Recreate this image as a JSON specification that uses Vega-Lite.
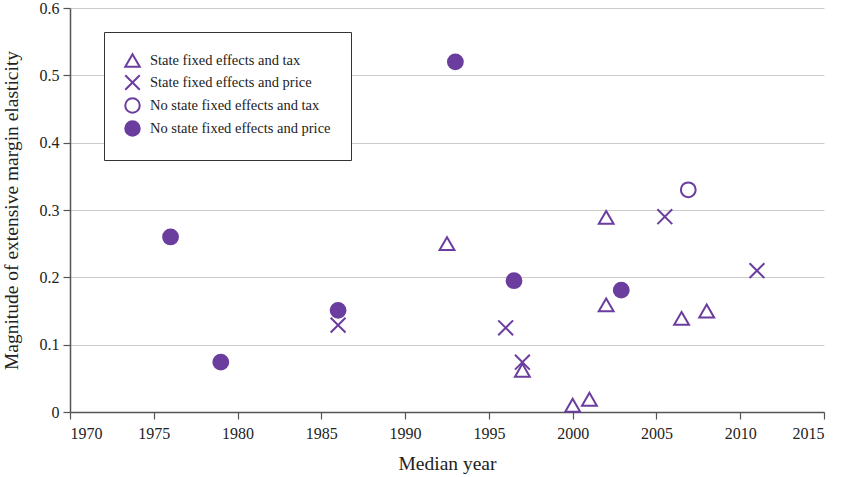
{
  "$schema": "https://vega.github.io/schema/vega-lite/v6.json",
  "width": 754,
  "height": 404,
  "autosize": {"type": "none"},
  "padding": {"left": 70, "top": 8, "right": 18, "bottom": 65},
  "background": "white",
  "config": {
    "view": {"stroke": null},
    "font": "Liberation Serif"
  },
  "data": {
    "values": [
      {"year": 1976.0, "elasticity": 0.26, "series": "No state fixed effects and price"},
      {"year": 1979.0, "elasticity": 0.074, "series": "No state fixed effects and price"},
      {"year": 1986.0, "elasticity": 0.151, "series": "No state fixed effects and price"},
      {"year": 1993.0, "elasticity": 0.52, "series": "No state fixed effects and price"},
      {"year": 1996.5, "elasticity": 0.195, "series": "No state fixed effects and price"},
      {"year": 2002.9, "elasticity": 0.181, "series": "No state fixed effects and price"},
      {"year": 2006.9, "elasticity": 0.33, "series": "No state fixed effects and tax"},
      {"year": 1986.0, "elasticity": 0.129, "series": "State fixed effects and price"},
      {"year": 1996.0, "elasticity": 0.125, "series": "State fixed effects and price"},
      {"year": 1997.0, "elasticity": 0.074, "series": "State fixed effects and price"},
      {"year": 2005.5, "elasticity": 0.29, "series": "State fixed effects and price"},
      {"year": 2011.0, "elasticity": 0.21, "series": "State fixed effects and price"},
      {"year": 1992.5, "elasticity": 0.25, "series": "State fixed effects and tax"},
      {"year": 2002.0, "elasticity": 0.289, "series": "State fixed effects and tax"},
      {"year": 2002.0, "elasticity": 0.159, "series": "State fixed effects and tax"},
      {"year": 1997.0, "elasticity": 0.062, "series": "State fixed effects and tax"},
      {"year": 2000.0, "elasticity": 0.01, "series": "State fixed effects and tax"},
      {"year": 2001.0, "elasticity": 0.019, "series": "State fixed effects and tax"},
      {"year": 2006.5, "elasticity": 0.139, "series": "State fixed effects and tax"},
      {"year": 2008.0, "elasticity": 0.15, "series": "State fixed effects and tax"}
    ]
  },
  "mark": {"type": "point", "filled": true, "size": 220, "strokeWidth": 2, "opacity": 1},
  "encoding": {
    "x": {
      "field": "year", "type": "quantitative",
      "scale": {"domain": [1970, 2015], "nice": false, "zero": false},
      "axis": {
        "values": [1970, 1975, 1980, 1985, 1990, 1995, 2000, 2005, 2010, 2015], "format": "d", "grid": false,
        "title": "Median year", "titlePadding": 13, "labelPadding": 6,
        "labelFont": "Liberation Serif", "titleFont": "Liberation Serif",
        "labelFontSize": 16, "titleFontSize": 19.5, "titleFontWeight": "normal",
        "labelColor": "#222", "titleColor": "#222",
        "domainColor": "#555", "tickColor": "#555", "domainWidth": 1.5, "tickWidth": 1.2, "tickSize": 7
      }
    },
    "y": {
      "field": "elasticity", "type": "quantitative",
      "scale": {"domain": [0, 0.6], "nice": false},
      "axis": {
        "values": [0, 0.1, 0.2, 0.3, 0.4, 0.5, 0.6], "format": ".1~f", "grid": true,
        "title": "Magnitude of extensive margin elasticity", "titlePadding": 18, "labelPadding": 4,
        "labelFont": "Liberation Serif", "titleFont": "Liberation Serif",
        "labelFontSize": 16, "titleFontSize": 19.5, "titleFontWeight": "normal",
        "labelColor": "#222", "titleColor": "#222",
        "domainColor": "#555", "tickColor": "#555", "domainWidth": 1.5, "tickWidth": 1.2, "tickSize": 7,
        "gridColor": "#cccccc", "gridWidth": 1
      }
    },
    "stroke": {"value": "#6a3d9e"},
    "shape": {
      "field": "series", "type": "nominal",
      "scale": {
        "domain": ["State fixed effects and tax", "State fixed effects and price", "No state fixed effects and tax", "No state fixed effects and price"],
        "range": ["triangle-up", "M-1,-1L1,1M-1,1L1,-1", "circle", "circle"]
      },
      "legend": {
        "title": null,
        "orient": "none",
        "legendX": 34,
        "legendY": 24,
        "padding": 20,
        "rowPadding": 0,
        "labelFont": "Liberation Serif",
        "labelFontSize": 14.5,
        "labelLimit": 0,
        "labelColor": "#222",
        "symbolSize": 210,
        "symbolStrokeWidth": 2,
        "labelOffset": 9,
        "strokeColor": "#333",
        "fillColor": "white",
        "cornerRadius": 0,
        "encode": {"symbols": {"update": {"stroke": {"value": "#6a3d9e"}, "strokeWidth": {"value": 2}}}}
      }
    },
    "fill": {
      "field": "series", "type": "nominal",
      "scale": {
        "domain": ["State fixed effects and tax", "State fixed effects and price", "No state fixed effects and tax", "No state fixed effects and price"],
        "range": ["transparent", "transparent", "transparent", "#6a3d9e"]
      },
      "legend": null
    }
  }
}
